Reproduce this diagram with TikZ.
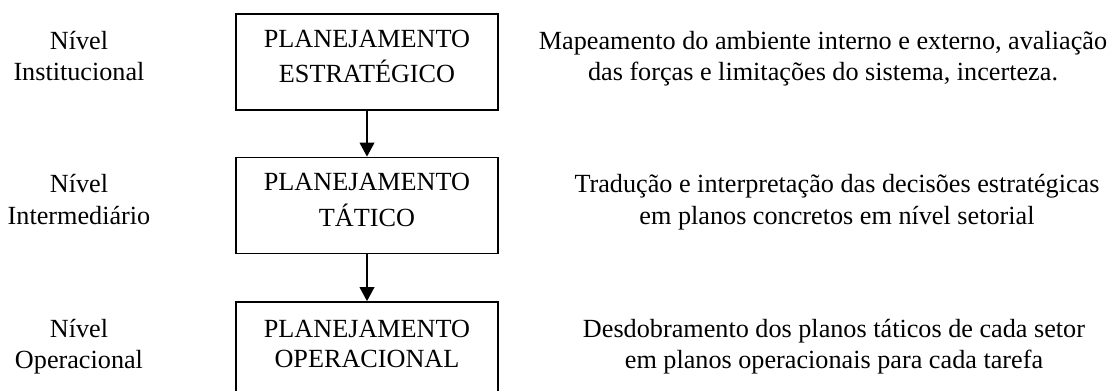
\documentclass[tikz,border=0pt]{standalone}
\usepackage{fontspec}
\setmainfont{Liberation Serif}
\usepackage{tikz}
\usetikzlibrary{arrows.meta}
\newcommand{\ls}{\rule[-9pt]{0pt}{22.5pt}}

\begin{document}
\begin{tikzpicture}[x=0.75pt, y=-0.75pt,
            every node/.style={font=\fontsize{19.65pt}{22.5pt}\selectfont, align=center, inner sep=0pt},
            plano/.style={draw, line width=1.3pt, minimum width=196.5pt, minimum height=72pt},
            seta/.style={line width=1.3pt, -{Triangle[width=11pt,length=10.5pt]}}]
            \useasboundingbox (0,0) rectangle (1115,391);
            \clip (0,0) rectangle (1115,391);
            % niveis
            \node (inst) at (79,62) {\ls N\'ivel\\\ls Institucional};
            \node (inter) at (79,205.5) {\ls N\'ivel\\\ls Intermedi\'ario};
            \node (oper) at (79,350) {\ls N\'ivel\\\ls Operacional};
            % planejamentos
            \node [plano] (estrat) at (367,62) {\ls PLANEJAMENTO\\\ls ESTRAT\'EGICO};
            \node [plano] (tatico) at (367,205.5) {\ls PLANEJAMENTO\\\ls T\'ATICO};
            \node [plano] (operac) at (367,350) {\ls PLANEJAMENTO\\\ls OPERACIONAL};
            \draw [seta] (estrat) -- (tatico);
            \draw [seta] (tatico) -- (operac);
            % descricoes
            \node (dinst) at (823,62) {\ls Mapeamento do ambiente interno e externo, avalia\c{c}\~ao\\\ls das for\c{c}as e limita\c{c}\~oes do sistema, incerteza.};
            \node (dinter) at (837,205.5) {\ls Tradu\c{c}\~ao e interpreta\c{c}\~ao das decis\~oes estrat\'egicas\\\ls em planos concretos em n\'ivel setorial};
            \node (doper) at (834,350) {\ls Desdobramento dos planos t\'aticos de cada setor\\\ls em planos operacionais para cada tarefa};
        \end{tikzpicture}
\end{document}
